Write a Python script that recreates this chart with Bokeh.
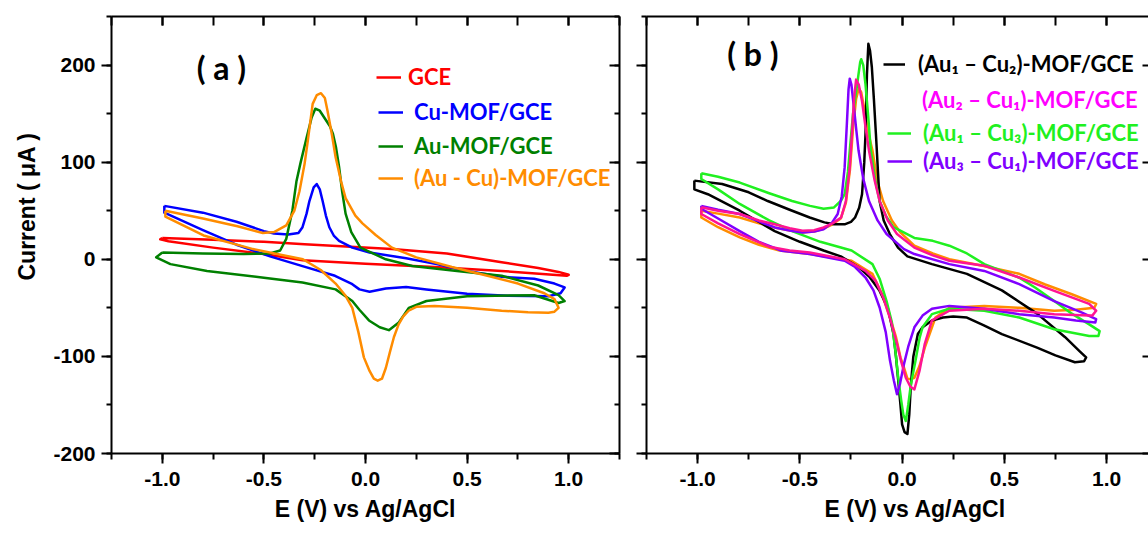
import math
from bokeh.plotting import figure
from bokeh.models import (Range1d, LinearAxis, SingleIntervalTicker, NumeralTickFormatter,
                          CustomJSTickFormatter, Legend, LegendItem, Label, Title)
from bokeh.layouts import row
from bokeh.embed import file_html
from bokeh.resources import INLINE

# ---------------- data: (E in V, current in uA) traced around each CV loop ----------------
# panel (a)
gce_a = [(-1.0, 22), (-0.75, 20), (-0.5, 18), (-0.3, 15.6), (0.13, 10.5), (0.4, 6), (0.67, -3),
         (0.85, -9), (0.95, -13), (1.0, -16), (0.99, -17), (0.67, -12), (0.34, -8), (0.0, -4.5),
         (-0.31, -1), (-0.5, 5.5), (-0.75, 12), (-0.97, 18.5), (-1.01, 20.5), (-1.0, 22)]
cu_a = [(-0.99, 55), (-0.8, 48), (-0.635, 38.6), (-0.5, 29), (-0.45, 26.5), (-0.38, 25.5), (-0.33, 27),
        (-0.31, 33), (-0.29, 47), (-0.276, 60), (-0.255, 74), (-0.24, 77.5), (-0.225, 72), (-0.211, 60),
        (-0.195, 45), (-0.178, 33), (-0.155, 24), (-0.13, 19), (-0.065, 12), (0.02, 7), (0.2, 1),
        (0.35, -5), (0.5, -12), (0.67, -18), (0.83, -20), (0.93, -25), (0.98, -29),
        (0.96, -35), (0.9, -38), (0.7, -37.5), (0.5, -35.5), (0.3, -31), (0.2, -28.5), (0.1, -30),
        (0.02, -33.5), (-0.03, -31), (-0.07, -25), (-0.15, -17), (-0.31, -7), (-0.47, 3),
        (-0.635, 15), (-0.8, 30), (-0.99, 48), (-0.99, 55)]
au_a = [(-1.0, 7), (-0.8, 6), (-0.6, 5.5), (-0.47, 6), (-0.42, 9), (-0.39, 21), (-0.36, 50), (-0.34, 80),
        (-0.32, 99), (-0.29, 125), (-0.265, 146), (-0.247, 155), (-0.225, 153), (-0.2, 145),
        (-0.175, 137), (-0.16, 129), (-0.145, 115), (-0.13, 95), (-0.115, 70), (-0.098, 47),
        (-0.07, 28), (-0.025, 12), (0.1, 0), (0.23, -7), (0.45, -12), (0.67, -17), (0.85, -27),
        (0.95, -37), (0.98, -43),
        (0.95, -45), (0.83, -37), (0.5, -38), (0.3, -43), (0.213, -50), (0.164, -65), (0.115, -73),
        (0.07, -70), (0.017, -63), (-0.03, -52), (-0.065, -43), (-0.147, -31), (-0.31, -24),
        (-0.5, -19), (-0.78, -12), (-0.96, -5), (-1.03, 2), (-1.0, 7)]
aucu_a = [(-0.985, 50), (-0.8, 42), (-0.63, 34), (-0.505, 27), (-0.45, 28), (-0.39, 35), (-0.35, 50),
          (-0.325, 70), (-0.3, 98), (-0.284, 122), (-0.26, 160), (-0.24, 169), (-0.219, 171),
          (-0.2, 166), (-0.187, 153), (-0.165, 128), (-0.147, 105), (-0.12, 80), (-0.098, 63),
          (-0.05, 45), (-0.015, 37), (0.05, 25), (0.13, 12), (0.25, 2), (0.425, -8), (0.6, -17),
          (0.75, -25), (0.88, -35), (0.93, -41), (0.95, -50),
          (0.93, -54), (0.9, -55), (0.8, -54.5), (0.67, -53), (0.5, -50), (0.34, -48), (0.25, -49),
          (0.212, -53), (0.185, -59), (0.163, -67), (0.14, -80), (0.122, -94), (0.1, -112),
          (0.081, -123), (0.06, -125), (0.041, -123), (0.02, -115), (-0.008, -101), (-0.035, -75),
          (-0.065, -50), (-0.1, -37), (-0.147, -25), (-0.22, -11), (-0.308, 0), (-0.553, 10.5),
          (-0.797, 24.5), (-0.985, 44), (-0.985, 50)]

# panel (b)
au1cu2_b = [(-1.016, 81), (-0.88, 77.5), (-0.75, 69), (-0.657, 60), (-0.55, 51), (-0.452, 43), (-0.38, 38),
            (-0.333, 36), (-0.281, 36), (-0.25, 38.5), (-0.23, 43), (-0.21, 53), (-0.196, 67),
            (-0.185, 100), (-0.179, 129), (-0.172, 190), (-0.165, 222), (-0.157, 215), (-0.148, 198),
            (-0.138, 165), (-0.128, 129), (-0.118, 90), (-0.11, 60), (-0.09, 40), (-0.06, 26),
            (-0.02, 12), (0.026, 3), (0.146, -5), (0.317, -15), (0.488, -32), (0.66, -56),
            (0.796, -80), (0.87, -95), (0.9, -101),
            (0.89, -105), (0.845, -106), (0.75, -99), (0.66, -91), (0.488, -77), (0.4, -68),
            (0.317, -60), (0.25, -59), (0.2, -60), (0.146, -63), (0.1, -70), (0.077, -77),
            (0.055, -100), (0.043, -129), (0.035, -160), (0.026, -180), (0.012, -178), (0.0, -170),
            (-0.008, -150), (-0.017, -129), (-0.03, -100), (-0.042, -77), (-0.07, -50), (-0.11, -32.5),
            (-0.16, -18), (-0.21, -8.5), (-0.3, 3), (-0.384, 9), (-0.5, 18), (-0.623, 29),
            (-0.794, 50), (-0.95, 67), (-1.016, 72), (-1.016, 81)]
au1cu3_b = [(-0.982, 88.5), (-0.9, 85), (-0.794, 79), (-0.65, 68), (-0.538, 60), (-0.45, 55), (-0.384, 52),
            (-0.333, 53.4), (-0.3, 60), (-0.281, 67), (-0.265, 90), (-0.256, 112), (-0.24, 150),
            (-0.22, 180), (-0.205, 203), (-0.2, 206), (-0.19, 200), (-0.179, 180), (-0.165, 145),
            (-0.153, 112), (-0.13, 80), (-0.11, 60), (-0.08, 45), (-0.042, 33), (0.06, 22),
            (0.15, 19), (0.231, 14), (0.317, 6), (0.402, -5), (0.5, -13), (0.573, -19), (0.65, -29),
            (0.744, -43), (0.83, -56), (0.915, -67), (0.966, -74),
            (0.96, -79), (0.915, -79), (0.744, -72), (0.573, -60), (0.402, -53), (0.231, -51),
            (0.146, -56.5), (0.1, -70), (0.086, -80.6), (0.065, -105), (0.043, -128.7), (0.03, -150),
            (0.018, -166.5), (0.006, -160), (-0.004, -146), (-0.02, -120), (-0.033, -94),
            (-0.05, -65), (-0.076, -43), (-0.11, -20), (-0.145, -5), (-0.247, 9), (-0.4, 18),
            (-0.538, 29), (-0.65, 40), (-0.794, 57), (-0.9, 72), (-0.982, 82.7), (-0.982, 88.5)]
au3cu1_b = [(-0.982, 55), (-0.9, 51), (-0.794, 46.6), (-0.7, 39), (-0.623, 32.8), (-0.55, 29.5),
            (-0.487, 27.6), (-0.43, 28.5), (-0.384, 31), (-0.345, 37), (-0.315, 46.6), (-0.295, 65),
            (-0.281, 94.6), (-0.27, 140), (-0.262, 175), (-0.256, 186), (-0.248, 180), (-0.239, 163),
            (-0.225, 135), (-0.213, 112), (-0.19, 83), (-0.162, 60), (-0.12, 40), (-0.076, 26),
            (0.009, 10.5), (0.06, 5.4), (0.231, -5), (0.402, -12), (0.573, -25.6), (0.744, -43),
            (0.88, -55), (0.949, -61.6),
            (0.945, -65), (0.85, -63), (0.744, -60), (0.573, -56.5), (0.402, -51), (0.231, -48),
            (0.146, -51), (0.1, -58), (0.06, -70), (0.03, -90), (0.009, -108), (-0.01, -128),
            (-0.025, -139), (-0.04, -125), (-0.059, -104.6), (-0.08, -75), (-0.11, -49.7),
            (-0.14, -32), (-0.179, -18.8), (-0.23, -8), (-0.281, -1.5), (-0.452, 5.4), (-0.589, 8.8),
            (-0.7, 18), (-0.794, 29), (-0.9, 42), (-0.982, 52), (-0.982, 55)]
au2cu1_b = [(-0.982, 53.6), (-0.9, 50), (-0.794, 46.6), (-0.7, 40), (-0.623, 36), (-0.55, 32),
            (-0.487, 29.4), (-0.43, 30), (-0.384, 32.8), (-0.34, 37), (-0.298, 43), (-0.275, 60),
            (-0.256, 94.6), (-0.245, 130), (-0.235, 165), (-0.225, 185), (-0.212, 180), (-0.196, 163),
            (-0.18, 138), (-0.162, 112), (-0.135, 82), (-0.11, 60), (-0.07, 40), (-0.025, 26),
            (0.06, 12), (0.15, 4), (0.231, -1.5), (0.402, -6.7), (0.573, -18.8), (0.744, -32.5),
            (0.915, -46), (0.949, -53),
            (0.93, -58), (0.915, -58), (0.744, -56.5), (0.573, -53), (0.402, -51), (0.231, -53),
            (0.146, -63), (0.111, -87), (0.085, -115), (0.06, -134), (0.04, -131), (0.018, -122),
            (-0.005, -105), (-0.025, -87), (-0.06, -60), (-0.093, -39), (-0.13, -22), (-0.179, -12),
            (-0.281, 0), (-0.452, 7), (-0.55, 9), (-0.65, 13), (-0.794, 26), (-0.9, 37),
            (-0.982, 46.6), (-0.982, 53.6)]
aucu_b = [(-0.982, 50), (-0.9, 47), (-0.794, 43), (-0.7, 37), (-0.623, 32.8), (-0.55, 29.5),
          (-0.487, 27.6), (-0.43, 28.5), (-0.384, 31.5), (-0.34, 36), (-0.3, 42), (-0.275, 58),
          (-0.255, 92), (-0.24, 135), (-0.225, 165), (-0.212, 176), (-0.2, 172), (-0.185, 155),
          (-0.165, 130), (-0.145, 112), (-0.12, 80), (-0.093, 60), (-0.05, 40), (-0.01, 28),
          (0.06, 14), (0.15, 6), (0.231, 0), (0.4, -7), (0.573, -15), (0.7, -26), (0.83, -36),
          (0.949, -46),
          (0.94, -50), (0.85, -52), (0.744, -53), (0.573, -50), (0.402, -48), (0.231, -50),
          (0.163, -60), (0.111, -91), (0.085, -110), (0.06, -122), (0.043, -123.5), (0.026, -123),
          (0.01, -112), (-0.008, -101), (-0.03, -80), (-0.059, -60), (-0.1, -35), (-0.145, -15),
          (-0.247, -1.5), (-0.452, 5.4), (-0.6, 9), (-0.7, 15), (-0.794, 22.5), (-0.9, 33),
          (-0.982, 43), (-0.982, 50)]

labels_a = ["GCE", "Cu-MOF/GCE", "Au-MOF/GCE", "(Au - Cu)-MOF/GCE"]
labels_b = ["(Au\u2081 \u2013 Cu\u2082)-MOF/GCE", "(Au\u2082 \u2013 Cu\u2081)-MOF/GCE",
            "(Au\u2081 \u2013 Cu\u2083)-MOF/GCE", "(Au\u2083 \u2013 Cu\u2081)-MOF/GCE"]
x_label = "E (V) vs Ag/AgCl"
y_label = "Current ( \u03bcA )"

TICK_FONT = "Liberation Sans"
LEG_FONT = "Lato"


def style_axis(ax, tin, tout, min_in, min_out, labels):
    ax.axis_line_width = 2
    ax.axis_line_color = "black"
    ax.major_tick_line_width = 2
    ax.minor_tick_line_width = 2
    ax.major_tick_line_color = "black"
    ax.minor_tick_line_color = "black"
    ax.major_tick_in = tin
    ax.major_tick_out = tout
    ax.minor_tick_in = min_in
    ax.minor_tick_out = min_out
    if labels:
        ax.major_label_text_font = TICK_FONT
        ax.major_label_text_font_style = "bold"
        ax.major_label_text_font_size = "21px"
        ax.major_label_text_color = "black"
        ax.major_label_standoff = 6
    else:
        ax.formatter = CustomJSTickFormatter(code="return ''")
        ax.major_label_text_font_size = "8px"
        ax.major_label_text_color = None
        ax.major_label_standoff = 0


def make_panel(width, bl, br, x_end, left_labels):
    p = figure(width=width, height=533, x_range=Range1d(-1.25, x_end), y_range=Range1d(-200, 250),
               output_backend="svg", toolbar_location=None,
               min_border_left=bl, min_border_right=br, min_border_top=16, min_border_bottom=80)
    p.outline_line_color = None
    p.xgrid.visible = False
    p.ygrid.visible = False
    p.background_fill_color = "white"
    p.border_fill_color = "white"
    xa = p.xaxis[0]
    ya = p.yaxis[0]
    xa.ticker = SingleIntervalTicker(interval=0.5, num_minor_ticks=2)
    ya.ticker = SingleIntervalTicker(interval=100, num_minor_ticks=2)
    xa.formatter = NumeralTickFormatter(format="0.0")
    ya.formatter = NumeralTickFormatter(format="0")
    style_axis(xa, 0, 10, 0, 6, True)
    xa.major_label_standoff = 8
    style_axis(ya, 0, 10, 0, 5, left_labels)
    top = LinearAxis(ticker=SingleIntervalTicker(interval=0.5, num_minor_ticks=2))
    style_axis(top, 9, 0, 9, 0, False)
    p.add_layout(top, "above")
    right = LinearAxis(ticker=SingleIntervalTicker(interval=100, num_minor_ticks=2))
    p.add_layout(right, "right")
    return p, right


def draw(p, pts, color, width=2.5):
    E = [q[0] for q in pts]
    I = [q[1] for q in pts]
    return p.line(E, I, line_color=color, line_width=width, line_join="round")


def add_legend(p, renderer, text, color, vx, vy, gw, standoff, size="22px"):
    lg = Legend(items=[LegendItem(label=text, renderers=[renderer])], location=(vx, vy),
                border_line_color=None, background_fill_alpha=0, padding=0, margin=0, spacing=0,
                glyph_width=gw, glyph_height=26, label_height=26, label_standoff=standoff,
                label_text_font=LEG_FONT, label_text_font_style="bold",
                label_text_font_size=size, label_text_color=color)
    p.add_layout(lg, "center")


def axis_title(text, align, offset, standoff):
    return Title(text=text, align=align, offset=offset, standoff=standoff,
                 vertical_align="bottom",
                 text_font=TICK_FONT, text_font_style="bold", text_font_size="23px",
                 text_color="black")


# ---------------- panel (a) ----------------
p1, r1 = make_panel(627, 107, 8, 1.25, True)
style_axis(r1, 10, 0, 5, 0, False)

ra_gce = draw(p1, gce_a, "#FF0000")
ra_cu = draw(p1, cu_a, "#0000FF")
ra_au = draw(p1, au_a, "#008000")
ra_aucu = draw(p1, aucu_a, "#FF8C00")

add_legend(p1, ra_gce, labels_a[0], "#FF0000", 265, 363, 25, 7)
add_legend(p1, ra_cu, labels_a[1], "#0000FF", 267, 328, 25, 11)
add_legend(p1, ra_au, labels_a[2], "#008000", 267, 294, 25, 11)
add_legend(p1, ra_aucu, labels_a[3], "#FF8C00", 267, 262, 25, 11)

p1.add_layout(Label(x=-0.709, y=197, text="( a )", text_align="center", text_baseline="middle",
                    text_font=LEG_FONT, text_font_style="bold", text_font_size="32px",
                    text_color="black"))
p1.add_layout(axis_title(y_label, "left", 173, 22), "left")
p1.add_layout(axis_title(x_label, "center", 0, 10), "below")

# ---------------- panel (b) ----------------
p2, r2 = make_panel(521, 19, 0, 1.205, False)
style_axis(r2, 6, 0, 0, 0, False)
r2.axis_line_color = None

rb_aucu = draw(p2, aucu_b, "#FF8C00")
rb_blk = draw(p2, au1cu2_b, "#000000")
rb_grn = draw(p2, au1cu3_b, "#20F020")
rb_pur = draw(p2, au3cu1_b, "#8000FF")
rb_mag = draw(p2, au2cu1_b, "#FF1493")
mag_key = p2.line([], [], line_color="#FF00FF", line_width=2.5)

add_legend(p2, rb_blk, labels_b[0], "#000000", 237, 376, 22, 13)
add_legend(p2, mag_key, labels_b[1], "#FF00FF", 240, 340, 24, 12)
add_legend(p2, rb_grn, labels_b[2], "#20F020", 241, 307, 24, 12)
add_legend(p2, rb_pur, labels_b[3], "#8000FF", 241, 279, 25, 11)

p2.add_layout(Label(x=-0.73, y=212, text="( b )", text_align="center", text_baseline="middle",
                    text_font=LEG_FONT, text_font_style="bold", text_font_size="32px",
                    text_color="black"))
p2.add_layout(axis_title(x_label, "left", 178, 10), "below")

layout = row(p1, p2)
open("out.html", "w").write(file_html(layout, INLINE))
